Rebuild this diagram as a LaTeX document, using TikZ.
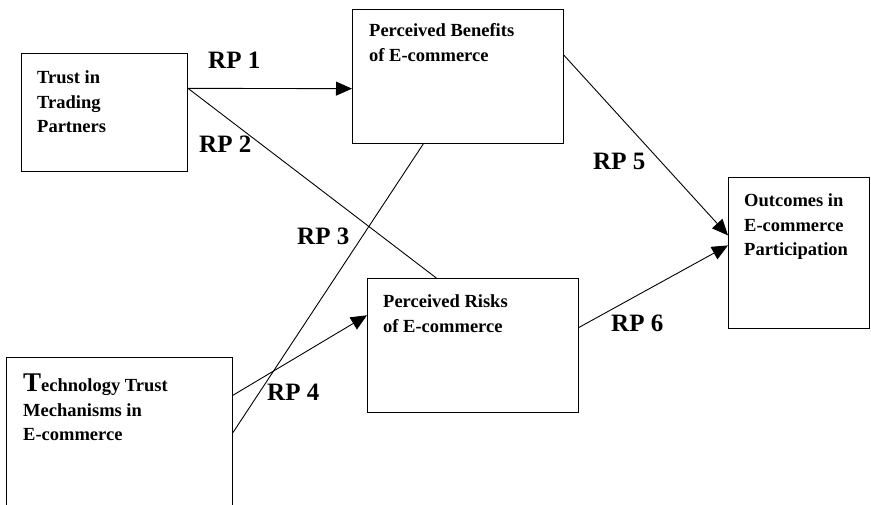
\documentclass[tikz,border=0pt]{standalone}
\usepackage{fontspec}
\setmainfont{Liberation Serif}
\usetikzlibrary{arrows.meta,calc}
\begin{document}
\begin{tikzpicture}[x=1pt,y=-1pt,
  box/.style={draw,line width=1pt,rectangle,inner sep=0pt,anchor=north west},
  boxtext/.style={anchor=north west,inner sep=0pt,align=left,font=\bfseries\fontsize{18.5}{24.5}\selectfont},
  rplabel/.style={anchor=base west,inner sep=0pt,font=\bfseries\fontsize{25}{30}\selectfont},
  conn/.style={line width=0.9pt},
  arr/.style={conn,-{Triangle[length=16pt,width=14pt]}}]
\useasboundingbox (0,0) rectangle (871,504);
% boxes
\node[box,minimum width=166pt,minimum height=118pt] (trust) at (21,53) {};
\node[box,minimum width=211pt,minimum height=134pt] (ben) at (352,9) {};
\node[box,minimum width=211pt,minimum height=134pt] (risk) at (367,278) {};
\node[box,minimum width=141pt,minimum height=151pt] (out) at (728,177) {};
\node[box,minimum width=226pt,minimum height=155pt] (tech) at (6,357) {};
% box texts
\node[boxtext] (trusttext) at (37,70.5) {Trust in\\Trading\\Partners};
\node[boxtext] (bentext) at (369,23.5) {Perceived Benefits\\of E-commerce};
\node[boxtext] (risktext) at (383,294.5) {Perceived Risks\\of E-commerce};
\node[boxtext] (outtext) at (744,193.5) {Outcomes in\\E-commerce\\Participation};
\node[boxtext] (techtext) at (23,374) {{\fontsize{27}{27}\selectfont T}echnology Trust\\Mechanisms in\\E-commerce};
% connectors
\draw[arr] ($(trust.north east)!0.297!(trust.south east)$) -- ($(ben.north west)!0.590!(ben.south west)$);
\draw[conn] ($(trust.north east)!0.297!(trust.south east)$) -- ($(risk.north west)!0.327!(risk.north east)$);
\draw[conn] ($(ben.south west)!0.336!(ben.south east)$) -- ($(tech.north east)!0.484!(tech.south east)$);
\draw[arr] ($(tech.north east)!0.245!(tech.south east)$) -- ($(risk.north west)!0.276!(risk.south west)$);
\draw[arr] ($(ben.north east)!0.343!(ben.south east)$) -- ($(out.north west)!0.384!(out.south west)$);
\draw[arr] ($(risk.north east)!0.366!(risk.south east)$) -- ($(out.north west)!0.450!(out.south west)$);
% labels
\node[rplabel] (rp1) at (208,68) {RP 1};
\node[rplabel] (rp2) at (199,152) {RP 2};
\node[rplabel] (rp3) at (297,244) {RP 3};
\node[rplabel] (rp4) at (267,400) {RP 4};
\node[rplabel] (rp5) at (593,169) {RP 5};
\node[rplabel] (rp6) at (611,331) {RP 6};
\end{tikzpicture}
\end{document}
